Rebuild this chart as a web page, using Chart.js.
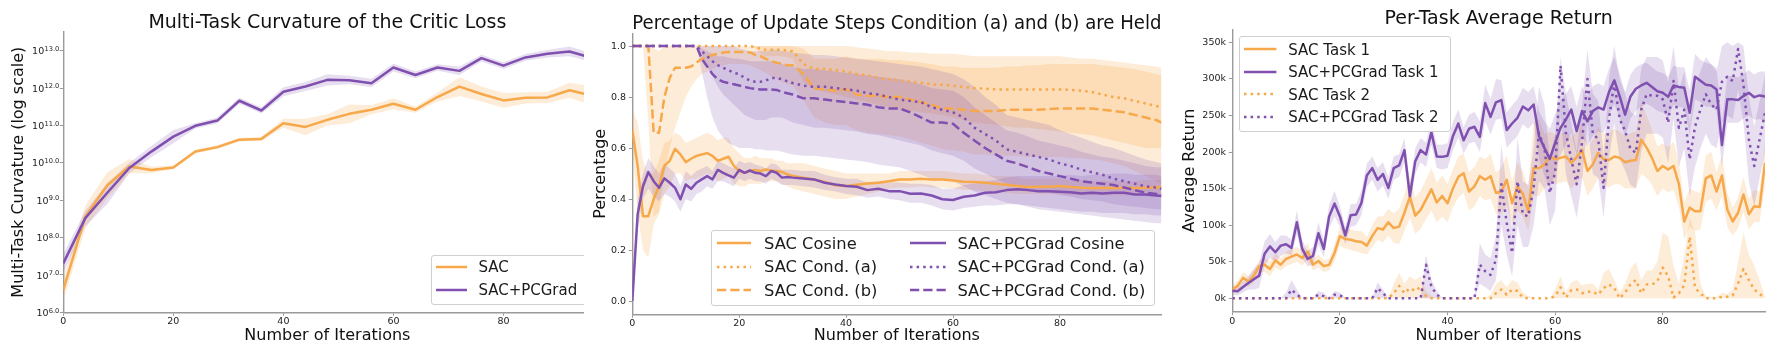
<!DOCTYPE html>
<html><head><meta charset="utf-8">
<script src="https://cdn.jsdelivr.net/npm/chart.js@4.4.1/dist/chart.umd.min.js"></script>
<style>
html,body{margin:0;padding:0;background:#fff;width:1778px;height:354px;overflow:hidden;font-family:'DejaVu Sans',sans-serif}
.panel{position:absolute;top:0;height:354px;overflow:hidden}
.panel canvas{position:absolute;left:0;top:0}
.legend{position:absolute;border:1px solid #cfcfcf;border-radius:3px;background:rgba(255,255,255,0.8);box-sizing:border-box}
.li{position:absolute;white-space:nowrap;color:#1a1a1a;font-family:'DejaVu Sans'}
.ls{position:absolute}
</style></head>
<body>
<div class="panel" id="p1" style="left:0;width:584px"><canvas id="c1" width="600" height="354" style="width:600px;height:354px"></canvas></div>
<div class="panel" id="p2" style="left:585px;width:580px"><canvas id="c2" width="580" height="354" style="width:580px;height:354px"></canvas></div>
<div class="panel" id="p3" style="left:1170px;width:608px"><canvas id="c3" width="608" height="354" style="width:608px;height:354px"></canvas></div>
<script>
// ---------------- Chart 1 : Multi-Task Curvature (values are log10 exponents) ----------------
const c1Iter = [0,4,8,12,16,20,24,28,32,36,40,44,48,52,56,60,64,68,72,76,80,84,88,92,96];
const c1SacLog   = [6.60,8.56,9.40,9.90,9.81,9.875,10.30,10.42,10.62,10.64,11.06,10.96,11.15,11.31,11.42,11.58,11.42,11.76,12.04,11.84,11.67,11.74,11.75,11.94,11.80];
const c1SacLogLo = [6.30,8.25,9.05,9.72,9.72,9.83,10.25,10.37,10.57,10.59,10.94,10.74,11.00,11.06,11.30,11.43,11.34,11.64,11.79,11.64,11.47,11.59,11.60,11.74,11.55];
const c1SacLogHi = [6.90,8.86,9.75,10.10,9.90,9.92,10.35,10.47,10.67,10.69,11.18,11.18,11.30,11.56,11.54,11.73,11.50,11.88,12.29,12.04,11.87,11.89,11.90,12.14,12.05];
const c1PcLog    = [7.31,8.52,9.20,9.86,10.30,10.70,10.99,11.13,11.66,11.40,11.90,12.04,12.22,12.21,12.13,12.55,12.35,12.55,12.46,12.80,12.60,12.82,12.92,12.98,12.81];
const c1PcLogLo  = [7.05,8.30,8.90,9.72,10.15,10.52,10.92,11.05,11.58,11.32,11.78,11.92,12.07,12.10,12.02,12.44,12.26,12.46,12.35,12.71,12.51,12.73,12.82,12.85,12.70];
const c1PcLogHi  = [7.55,8.72,9.45,10.00,10.45,10.88,11.06,11.21,11.74,11.48,12.02,12.16,12.37,12.33,12.25,12.66,12.44,12.64,12.58,12.89,12.69,12.91,13.02,13.11,12.93];
const c1YTickExp = [6,7,8,9,10,11,12,13];
const xTicks = [0,20,40,60,80];

// ---------------- Chart 2 : Percentage of update steps ----------------
const x2 = [0,1,2,3,4,5,6,7,8,9,10,11,12,13,14,15,16,17,18,19,20,21,22,23,24,25,26,27,28,29,30,32,34,36,38,40,42,44,46,48,50,52,54,56,58,60,62,64,66,68,70,72,74,76,78,80,82,84,86,88,90,92,94,96,98,99];
const sacCosine = [0.67,0.53,0.333,0.333,0.40,0.45,0.53,0.55,0.597,0.575,
 0.545,0.558,0.569,0.575,0.58,0.569,0.55,0.558,0.566,0.53,
 0.51,0.503,0.51,0.514,0.51,0.516,0.512,0.51,0.506,0.497,
 0.49,
 0.484,0.477,0.467,0.454,0.451,0.456,0.461,0.464,0.47,0.477,
 0.477,0.48,0.477,0.477,0.473,0.468,0.467,0.464,0.46,0.456,
 0.451,0.447,0.448,0.448,0.451,0.447,0.444,0.443,0.443,0.443,
 0.443,0.443,0.444,0.446,
 0.447];
const sacCosineLo = [0.6,0.35,0.2,0.17,0.3,0.34,0.42,0.45,0.5,0.5,
 0.47,0.48,0.48,0.49,0.5,0.49,0.47,0.48,0.49,0.46,
 0.45,0.45,0.46,0.46,0.46,0.47,0.47,0.47,0.46,0.45,
 0.44,
 0.43,0.42,0.41,0.4,0.4,0.41,0.42,0.43,0.44,0.445,
 0.445,0.45,0.445,0.445,0.44,0.435,0.435,0.43,0.43,0.425,
 0.42,0.42,0.42,0.42,0.42,0.415,0.415,0.415,0.415,0.415,
 0.415,0.415,0.415,0.415,
 0.415];
const sacCosineHi = [0.75,0.7,0.55,0.5,0.5,0.55,0.62,0.63,0.66,0.65,
 0.62,0.63,0.64,0.65,0.66,0.65,0.63,0.64,0.64,0.6,
 0.58,0.56,0.56,0.57,0.56,0.56,0.56,0.55,0.55,0.54,
 0.54,
 0.54,0.53,0.52,0.51,0.5,0.5,0.5,0.5,0.5,0.51,
 0.51,0.51,0.51,0.51,0.505,0.5,0.5,0.495,0.49,0.49,
 0.485,0.48,0.48,0.48,0.48,0.475,0.475,0.47,0.47,0.47,
 0.47,0.47,0.475,0.475,
 0.475];
const pcCosine = [0,0.34,0.45,0.506,0.47,0.444,0.481,0.464,0.444,0.399,
 0.457,0.44,0.464,0.477,0.49,0.477,0.514,0.503,0.493,0.484,
 0.514,0.503,0.512,0.503,0.5,0.49,0.51,0.503,0.484,0.486,
 0.484,
 0.481,0.477,0.464,0.457,0.451,0.448,0.435,0.44,0.431,0.431,
 0.421,0.422,0.414,0.399,0.396,0.409,0.414,0.425,0.427,0.435,
 0.438,0.435,0.431,0.431,0.429,0.427,0.422,0.425,0.422,0.425,
 0.425,0.418,0.418,0.414,
 0.412];
const pcCosineLo = [0,0.28,0.4,0.44,0.41,0.39,0.42,0.41,0.39,0.35,
 0.4,0.39,0.42,0.43,0.45,0.44,0.47,0.47,0.46,0.45,
 0.48,0.47,0.48,0.47,0.47,0.46,0.48,0.47,0.455,0.455,
 0.455,
 0.45,0.445,0.435,0.43,0.42,0.415,0.405,0.41,0.4,0.395,
 0.385,0.385,0.375,0.36,0.355,0.365,0.37,0.375,0.375,0.38,
 0.38,0.375,0.37,0.365,0.36,0.355,0.35,0.35,0.345,0.345,
 0.345,0.34,0.34,0.335,
 0.335];
const pcCosineHi = [0,0.4,0.5,0.56,0.53,0.5,0.54,0.52,0.5,0.45,
 0.51,0.49,0.51,0.52,0.53,0.51,0.55,0.54,0.53,0.52,
 0.55,0.54,0.545,0.535,0.53,0.52,0.54,0.535,0.515,0.515,
 0.515,
 0.51,0.51,0.495,0.485,0.48,0.48,0.465,0.47,0.465,0.465,
 0.46,0.46,0.455,0.44,0.44,0.455,0.46,0.47,0.475,0.485,
 0.49,0.49,0.49,0.49,0.49,0.495,0.49,0.495,0.495,0.5,
 0.5,0.495,0.495,0.495,
 0.49];
const sacCondA = [1,1,1,1,1,1,1,1,1,1,
 1,1,1,1,1,1,1,1,1,1,
 1,1,1,0.995,0.99,0.985,0.985,0.985,0.985,0.982,
 0.98,
 0.93,0.91,0.91,0.905,0.9,0.89,0.885,0.875,0.87,0.865,
 0.86,0.855,0.85,0.848,0.845,0.84,0.835,0.833,0.83,0.83,
 0.83,0.83,0.83,0.83,0.83,0.828,0.825,0.82,0.81,0.8,
 0.795,0.785,0.775,0.765,
 0.76];
const sacCondALo = [1,1,1,1,1,1,1,1,1,1,
 1,1,1,1,1,1,1,1,1,1,
 1,1,1,0.99,0.97,0.96,0.96,0.96,0.96,0.955,
 0.95,
 0.86,0.83,0.82,0.81,0.8,0.79,0.78,0.77,0.76,0.75,
 0.745,0.74,0.735,0.73,0.72,0.71,0.7,0.695,0.69,0.685,
 0.68,0.68,0.675,0.67,0.665,0.66,0.655,0.65,0.64,0.63,
 0.62,0.61,0.6,0.6,
 0.6];
const sacCondAHi = [1,1,1,1,1,1,1,1,1,1,
 1,1,1,1,1,1,1,1,1,1,
 1,1,1,1,1,1,1,1,1,1,
 1,
 1,1,1,1,1,0.995,0.99,0.985,0.98,0.98,
 0.975,0.975,0.97,0.97,0.97,0.965,0.96,0.96,0.96,0.96,
 0.96,0.96,0.96,0.96,0.96,0.955,0.95,0.95,0.945,0.94,
 0.935,0.93,0.925,0.92,
 0.915];
const sacCondB = [1,1,1,1,0.66,0.66,0.8,0.875,0.915,0.915,
 0.915,0.92,0.935,0.95,0.955,0.965,0.97,0.975,0.977,0.977,
 0.977,0.977,0.975,0.965,0.96,0.95,0.94,0.935,0.93,0.925,
 0.925,
 0.89,0.835,0.83,0.825,0.83,0.81,0.805,0.805,0.8,0.8,
 0.79,0.78,0.77,0.755,0.755,0.75,0.745,0.745,0.745,0.75,
 0.75,0.75,0.75,0.753,0.755,0.755,0.755,0.755,0.75,0.745,
 0.74,0.73,0.72,0.71,
 0.7];
const sacCondBLo = [1,1,1,0.7,0.33,0.35,0.5,0.6,0.68,0.74,
 0.8,0.84,0.87,0.89,0.9,0.91,0.92,0.925,0.93,0.93,
 0.93,0.93,0.925,0.915,0.905,0.895,0.88,0.87,0.86,0.85,
 0.845,
 0.79,0.72,0.7,0.69,0.69,0.67,0.66,0.655,0.65,0.645,
 0.635,0.62,0.61,0.595,0.59,0.585,0.575,0.575,0.57,0.57,
 0.57,0.565,0.565,0.565,0.565,0.56,0.56,0.555,0.55,0.54,
 0.53,0.51,0.49,0.47,
 0.46];
const sacCondBHi = [1,1,1,1,0.99,0.98,1,1,1,1,
 1,1,1,1,1,1,1,1,1,1,
 1,1,1,1,1,1,1,1,1,1,
 1,
 0.99,0.95,0.95,0.95,0.96,0.95,0.95,0.95,0.945,0.945,
 0.94,0.935,0.93,0.92,0.92,0.915,0.915,0.915,0.915,0.92,
 0.92,0.925,0.925,0.93,0.93,0.93,0.93,0.93,0.925,0.92,
 0.915,0.91,0.9,0.89,
 0.885];
const pcCondA = [1,1,1,1,1,1,1,1,1,1,
 1,1,1,0.98,0.96,0.94,0.925,0.915,0.905,0.895,
 0.89,0.875,0.865,0.86,0.86,0.865,0.875,0.875,0.87,0.862,
 0.855,
 0.845,0.84,0.84,0.835,0.83,0.825,0.815,0.81,0.8,0.79,
 0.785,0.78,0.76,0.75,0.74,0.72,0.68,0.655,0.63,0.595,
 0.585,0.575,0.565,0.555,0.54,0.53,0.515,0.505,0.495,0.48,
 0.47,0.46,0.45,0.445,
 0.44];
const pcCondALo = [1,1,1,1,1,1,1,1,1,1,
 1,1,1,0.96,0.92,0.88,0.84,0.81,0.79,0.77,
 0.75,0.73,0.72,0.71,0.71,0.71,0.72,0.72,0.72,0.71,
 0.7,
 0.69,0.68,0.68,0.675,0.67,0.665,0.655,0.65,0.64,0.63,
 0.62,0.61,0.59,0.58,0.57,0.55,0.52,0.5,0.48,0.46,
 0.45,0.44,0.43,0.425,0.415,0.41,0.4,0.395,0.39,0.38,
 0.375,0.37,0.365,0.36,
 0.36];
const pcCondAHi = [1,1,1,1,1,1,1,1,1,1,
 1,1,1,1,1,1,1,1,1,1,
 0.99,0.985,0.98,0.98,0.98,0.98,0.985,0.985,0.98,0.98,
 0.975,
 0.97,0.965,0.965,0.96,0.955,0.95,0.945,0.94,0.935,0.93,
 0.925,0.92,0.91,0.9,0.89,0.87,0.84,0.8,0.77,0.73,
 0.72,0.71,0.7,0.69,0.67,0.655,0.64,0.625,0.61,0.6,
 0.585,0.57,0.555,0.545,
 0.54];
const pcCondB = [1,1,1,1,1,1,1,1,1,1,
 1,1,1,0.95,0.92,0.89,0.87,0.86,0.855,0.85,
 0.845,0.84,0.835,0.832,0.83,0.83,0.83,0.828,0.82,0.815,
 0.81,
 0.795,0.795,0.79,0.785,0.78,0.775,0.77,0.76,0.755,0.755,
 0.74,0.72,0.7,0.7,0.695,0.66,0.63,0.6,0.575,0.55,
 0.54,0.525,0.51,0.5,0.49,0.48,0.47,0.465,0.46,0.455,
 0.445,0.435,0.425,0.42,
 0.42];
const pcCondBLo = [1,1,1,1,1,1,1,1,1,1,
 1,1,1,0.9,0.8,0.72,0.67,0.64,0.62,0.61,
 0.6,0.6,0.6,0.595,0.595,0.59,0.59,0.59,0.585,0.58,
 0.575,
 0.57,0.57,0.565,0.56,0.555,0.55,0.545,0.535,0.53,0.525,
 0.51,0.495,0.48,0.475,0.47,0.45,0.43,0.415,0.4,0.385,
 0.38,0.37,0.36,0.355,0.35,0.345,0.34,0.335,0.33,0.325,
 0.32,0.315,0.31,0.305,
 0.305];
const pcCondBHi = [1,1,1,1,1,1,1,1,1,1,
 1,1,1,0.99,0.98,0.97,0.96,0.96,0.955,0.95,
 0.95,0.945,0.94,0.94,0.94,0.94,0.94,0.935,0.93,0.925,
 0.92,
 0.91,0.91,0.905,0.9,0.895,0.89,0.885,0.88,0.875,0.87,
 0.86,0.85,0.835,0.83,0.825,0.8,0.76,0.73,0.7,0.67,
 0.66,0.645,0.63,0.62,0.61,0.6,0.585,0.575,0.565,0.56,
 0.55,0.54,0.53,0.525,
 0.525];
const c2YTicks = [0,0.2,0.4,0.6,0.8,1.0];

// ---------------- Chart 3 : Per-task average return (thousands) ----------------
const x3 = [0,1,2,3,4,5,6,7,8,9,10,11,12,13,14,15,16,17,18,19,20,21,22,23,24,25,26,27,28,29,30,31,32,33,34,35,36,37,38,39,40,41,42,43,44,45,46,47,48,49,50,51,52,53,54,55,56,57,58,59,60,61,62,63,64,65,66,67,68,69,70,71,72,73,74,75,76,77,78,79,80,81,82,83,84,85,86,87,88,89,90,91,92,93,94,95,96,97,98,99];
const sacTask1 = [12,17,28,23,31,44,46,40,52,46,
 54,57,60,55,64,46,51,44,46,62,
 85,81,80,78,77,72,85,96,94,104,
 96,98,117,139,113,121,135,149,131,140,
 130,150,166,171,146,153,167,162,167,144,
 146,162,130,153,143,119,178,178,183,194,
 190,192,194,185,193,203,174,183,199,190,
 189,194,192,186,188,189,217,206,192,174,
 181,176,181,156,105,124,119,119,164,168,
 146,168,121,105,117,142,115,126,125,185];
const sacTask1Lo = [6,10,20,16,22,36,36,30,42,38,
 44,47,50,45,52,38,42,36,38,50,
 72,68,66,64,62,60,70,80,76,86,
 76,74,92,110,88,95,108,120,104,112,
 104,124,138,144,120,126,140,134,136,116,
 115,128,100,120,112,92,140,140,150,160,
 156,158,160,150,158,166,140,150,164,155,
 152,156,156,150,150,150,170,165,155,140,
 150,145,148,125,80,98,92,94,132,136,
 120,140,98,86,96,118,94,104,104,155];
const sacTask1Hi = [18,24,36,30,40,52,56,50,62,54,
 64,67,70,65,76,54,60,52,54,74,
 98,94,94,92,92,84,100,112,112,122,
 116,122,142,168,138,147,162,178,158,168,
 156,176,194,198,172,180,194,190,198,172,
 178,196,160,186,174,150,240,245,225,228,
 224,226,228,220,228,240,208,216,234,225,
 226,232,228,222,226,228,268,250,230,208,
 212,207,214,187,130,150,146,144,196,200,
 172,196,144,124,138,166,136,148,146,215];
const pcTask1 = [10.5,9.6,15.5,21,26,31,61,71,63,72,
 74,69,104,67.5,54,58,89,67.5,112,129.5,
 112,86,113.6,114.5,130.5,168,178,162,170,151,
 178,181.6,202.6,139.6,187.5,202.6,196.6,227,194,193.4,
 195,221.7,239,216,231.8,234.5,220.8,266.9,248,268,
 271,230,239,246.8,262.3,257,265,221.7,205.7,190.7,
 212.6,233,244.5,258,228.6,256,242,256,261,258,
 282,298,276,251,276,286.5,291,294.7,289,283,
 281,275.5,291,289,288,253.6,303,297.4,292,291,
 285.6,209.4,272,272,271,276.5,281,275,277.4,276];
const pcTask1Lo = [5,4,8,12,12,14,45,55,50,58,
 62,58,88,55,44,46,74,56,96,112,
 98,74,98,100,114,152,162,146,154,136,
 162,166,186,124,170,186,180,210,178,176,
 178,202,220,198,212,214,200,242,224,244,
 246,206,214,222,238,232,240,190,168,150,
 172,196,210,226,196,222,208,222,228,226,
 250,266,246,220,246,256,262,266,262,256,
 254,248,264,262,260,224,272,268,262,262,
 256,180,240,240,240,246,250,244,245,242];
const pcTask1Hi = [16,15,23,30,40,48,78,88,77,86,
 86,80,120,80,64,70,104,80,128,147,
 126,98,129,129,147,184,194,178,186,166,
 194,197,219,155,205,219,213,244,210,210,
 212,241,258,234,251,255,242,292,272,300,
 298,254,264,272,288,282,290,256,242,232,
 252,272,280,290,262,290,276,290,294,290,
 314,330,306,282,306,316,320,322,316,310,
 308,303,318,316,316,284,334,326,322,320,
 315,240,304,304,302,307,312,306,310,310];
const sacTask2 = [0,0,0,0,0,0,0,0,0,0,
 0,0,0,0,0,0,0,0,0,0,
 0,0,0,0,0,0,0,0,0,0,
 7,17,7,14,10,16,3,0,0,0,
 0,0,0,0,0,0,0,0,0,7,
 12,5,12,10,1,0,0,0,0,0,
 3,15,1,11,12,7,9,9,5,14,
 19,14,0,8,19,25,7,19,19,23,
 42,30,1,7,18,84,14,7,0,0,
 0,2,2,4,20,40,25,12,6,0];
const sacTask2Hi = [0,0,0,0,0,0,0,0,0,0,
 0,0,0,0,0,0,0,0,0,0,
 0,0,0,0,0,0,0,0,0,0,
 20,35,20,30,25,30,10,3,0,0,
 0,0,0,0,0,0,0,0,5,20,
 25,15,25,22,8,3,0,0,0,0,
 12,30,8,22,25,18,20,20,12,35,
 40,25,8,20,40,50,25,38,38,50,
 90,85,45,20,60,110,90,20,3,2,
 2,8,6,12,50,90,60,45,25,2];
const pcTask2 = [0,0,0,0,0,0,0,0,0,0,
 0,12,5,0,0,0,5,3,0,5,
 4,0,0,0,0,0,0,14,7,0,
 0,0,0,0,0,0,46,16,5,0,
 0,0,0,0,0,0,46,37,32,53,
 156,103,62,160,115,112,151,226,206,144,
 172,318,226,190,156,213,300,226,217,151,
 245,295,245,229,204,199,258,279,277,277,
 272,240,297,233,258,190,235,258,279,265,
 258,296,303,297,341,292,217,181,217,254];
const pcTask2Lo = [0,0,0,0,0,0,0,0,0,0,
 0,0,0,0,0,0,0,0,0,0,
 0,0,0,0,0,0,0,0,0,0,
 0,0,0,0,0,0,0,0,0,0,
 0,0,0,0,0,0,20,15,10,25,
 100,60,30,100,70,70,100,160,150,100,
 120,250,170,140,110,160,240,170,165,110,
 190,240,190,175,155,150,200,225,225,225,
 220,185,245,180,205,140,180,205,225,210,
 205,240,250,245,285,240,160,125,165,200];
const pcTask2Hi = [0,0,0,0,0,0,0,0,0,0,
 8,25,12,0,0,0,10,8,0,10,
 8,0,0,0,0,0,0,22,12,0,
 0,0,0,0,0,0,60,25,10,0,
 0,0,0,0,0,0,75,60,55,85,
 210,150,95,220,160,155,205,290,265,190,
 225,330,280,240,200,265,340,280,270,195,
 300,345,300,280,255,250,315,330,330,330,
 325,295,345,285,310,240,290,310,330,320,
 310,345,350,345,350,345,275,235,270,305];
const c3YTicks = [0,50,100,150,200,250,300,350];

// ---------------- Styling ----------------
const ORANGE = 'rgb(246,168,75)', PURPLE = 'rgb(128,80,176)';
const ORANGE_F = 'rgba(246,168,75,0.22)', PURPLE_F = 'rgba(128,80,176,0.19)';
const DOT = [2.5,4.1], DASH = [9.25,4];
const TXT = '#222';
Chart.defaults.font.family = "'DejaVu Sans'";
Chart.defaults.color = TXT;

function pts(xs, ys){ return xs.map((x,i)=>({x:x, y:ys[i]})); }
function pow10(a){ return a.map(e=>Math.pow(10,e)); }
function line(label, data, color, dash){
  return {label, data, borderColor:color, backgroundColor:color, borderWidth:2.5, borderDash:dash||[],
          borderCapStyle:'butt', borderJoinStyle:'round', pointRadius:0, pointHoverRadius:0, fill:false, tension:0};
}
function bandHi(data, color, target){
  return {label:'', data, borderColor:'rgba(0,0,0,0)', borderWidth:1, backgroundColor:color, pointRadius:0, pointHoverRadius:0, fill:target, tension:0};
}
function bandLo(data){
  return {label:'', data, borderColor:'rgba(0,0,0,0)', borderWidth:1, backgroundColor:'rgba(0,0,0,0)', pointRadius:0, pointHoverRadius:0, fill:false, tension:0};
}
function setTicks(vals){ return function(scale){ scale.ticks = vals.map(v=>({value:v})); }; }
const gridStyle = {drawOnChartArea:false, drawTicks:true, tickLength:3.5, color:'#9a9a9a', lineWidth:1};
const borderStyle = {display:true, color:'#9a9a9a', width:1.4};

function xAxis(max, height){
  return {type:'linear', min:0, max:max, afterBuildTicks:setTicks(xTicks), afterFit:s=>{s.height=height;},
    grid:gridStyle, border:borderStyle,
    ticks:{font:{size:9.5}, color:TXT, padding:0.5, maxRotation:0, autoSkip:false, callback:v=>String(v)},
    title:{display:true, text:'Number of Iterations', font:{size:16, lineHeight:1}, color:'#111', padding:{top:0, bottom:10.5}}};
}
function yAxis(type, min, max, tickVals, width, title, tpad, cb){
  return {type:type, min:min, max:max, afterBuildTicks:setTicks(tickVals), afterFit:s=>{s.width=width;},
    grid:gridStyle, border:borderStyle,
    ticks:{font:{size:9.5}, color:TXT, padding:2.8, autoSkip:false, callback:cb},
    title:{display:true, text:title, font:{size:16, lineHeight:1}, color:'#111', padding:{top:tpad, bottom:0}}};
}
function baseOptions(titleText, tpadTop, tpadBot, padRight, scales){
  return {responsive:false, maintainAspectRatio:false, animation:false, devicePixelRatio:1, events:[],
    layout:{padding:{left:0, top:0, right:padRight, bottom:0}},
    plugins:{legend:{display:false}, tooltip:{enabled:false}, filler:{drawTime:'beforeDatasetsDraw', propagate:false},
      title:{display:true, text:titleText, fullSize:false, color:'#111', font:{size:19, weight:'normal', lineHeight:1}, padding:{top:tpadTop, bottom:tpadBot}}},
    scales:scales};
}

// superscript log tick labels (10^{k.0}) drawn as text
const supLabels = {id:'supLabels', afterDraw(chart){
  const ys = chart.scales.y, ctx = chart.ctx;
  ctx.save(); ctx.fillStyle = TXT; ctx.textBaseline = 'alphabetic';
  const right = ys.right - 4;
  c1YTickExp.forEach(e=>{
    const y = ys.getPixelForValue(Math.pow(10,e));
    const sup = e.toFixed(1);
    ctx.font = "6.7px 'DejaVu Sans'";
    const sw = ctx.measureText(sup).width;
    ctx.textAlign = 'left'; ctx.fillText(sup, right - sw, y + 0.3);
    ctx.font = "9.5px 'DejaVu Sans'";
    ctx.textAlign = 'right'; ctx.fillText('10', right - sw - 0.2, y + 3.6);
  });
  ctx.restore();
}};

// ---- Chart 1
new Chart(document.getElementById('c1'), {type:'line',
  data:{datasets:[
    line('SAC+PCGrad', pts(c1Iter, pow10(c1PcLog)), PURPLE),
    line('SAC', pts(c1Iter, pow10(c1SacLog)), ORANGE),
    bandHi(pts(c1Iter, pow10(c1PcLogHi)), PURPLE_F, '+1'),
    bandLo(pts(c1Iter, pow10(c1PcLogLo))),
    bandHi(pts(c1Iter, pow10(c1SacLogHi)), ORANGE_F, '+1'),
    bandLo(pts(c1Iter, pow10(c1SacLogLo)))
  ]},
  options:baseOptions('Multi-Task Curvature of the Critic Loss', 13.9, -0.9, 8.5, {
    x:xAxis(96, 41.7),
    y:yAxis('logarithmic', 1e6, Math.pow(10,13.5), c1YTickExp.map(e=>Math.pow(10,e)), 63.3, 'Multi-Task Curvature (log scale)', 10.5, ()=>'')
  }),
  plugins:[supLabels]
});

// ---- Chart 2
new Chart(document.getElementById('c2'), {type:'line',
  data:{datasets:[
    line('SAC+PCGrad Cond. (b)', pts(x2, pcCondB), PURPLE, DASH),
    line('SAC+PCGrad Cond. (a)', pts(x2, pcCondA), PURPLE, DOT),
    line('SAC+PCGrad Cosine', pts(x2, pcCosine), PURPLE),
    line('SAC Cond. (b)', pts(x2, sacCondB), ORANGE, DASH),
    line('SAC Cond. (a)', pts(x2, sacCondA), ORANGE, DOT),
    line('SAC Cosine', pts(x2, sacCosine), ORANGE),
    bandHi(pts(x2, pcCondBHi), PURPLE_F, '+1'), bandLo(pts(x2, pcCondBLo)),
    bandHi(pts(x2, pcCondAHi), PURPLE_F, '+1'), bandLo(pts(x2, pcCondALo)),
    bandHi(pts(x2, pcCosineHi), PURPLE_F, '+1'), bandLo(pts(x2, pcCosineLo)),
    bandHi(pts(x2, sacCondBHi), ORANGE_F, '+1'), bandLo(pts(x2, sacCondBLo)),
    bandHi(pts(x2, sacCondAHi), ORANGE_F, '+1'), bandLo(pts(x2, sacCondALo)),
    bandHi(pts(x2, sacCosineHi), ORANGE_F, '+1'), bandLo(pts(x2, sacCosineLo))
  ]},
  options:baseOptions('Percentage of Update Steps Condition (a) and (b) are Held', 14.9, -0.6, 3.5, {
    x:xAxis(99, 39.7),
    y:yAxis('linear', -0.052, 1.05, c2YTicks, 47.3, 'Percentage', 8.2, v=>Number(v).toFixed(1))
  })
});

// ---- Chart 3
new Chart(document.getElementById('c3'), {type:'line',
  data:{datasets:[
    line('SAC+PCGrad Task 2', pts(x3, pcTask2), PURPLE, DOT),
    line('SAC Task 2', pts(x3, sacTask2), ORANGE, DOT),
    line('SAC+PCGrad Task 1', pts(x3, pcTask1), PURPLE),
    line('SAC Task 1', pts(x3, sacTask1), ORANGE),
    bandHi(pts(x3, pcTask2Hi), PURPLE_F, '+1'), bandLo(pts(x3, pcTask2Lo)),
    bandHi(pts(x3, sacTask2Hi), ORANGE_F, 'origin'),
    bandHi(pts(x3, pcTask1Hi), PURPLE_F, '+1'), bandLo(pts(x3, pcTask1Lo)),
    bandHi(pts(x3, sacTask1Hi), ORANGE_F, '+1'), bandLo(pts(x3, sacTask1Lo))
  ]},
  options:baseOptions('Per-Task Average Return', 9.9, 0.4, 13, {
    x:xAxis(99, 42.3),
    y:yAxis('linear', -18.3, 367.8, c3YTicks, 62.3, 'Average Return', 12, v=>v+'k')
  })
});

// ---------------- Legends (HTML text) ----------------
const legend1Labels = ['SAC','SAC+PCGrad'];
const legend2Labels = ['SAC Cosine','SAC Cond. (a)','SAC Cond. (b)','SAC+PCGrad Cosine','SAC+PCGrad Cond. (a)','SAC+PCGrad Cond. (b)'];
const legend3Labels = ['SAC Task 1','SAC+PCGrad Task 1','SAC Task 2','SAC+PCGrad Task 2'];

function makeLegend(parent, originX, frame, items, fs){
  const f = document.createElement('div'); f.className='legend';
  f.style.left=(frame.l-originX)+'px'; f.style.top=frame.t+'px'; f.style.width=frame.w+'px'; f.style.height=frame.h+'px';
  parent.appendChild(f);
  items.forEach(it=>{
    const w = it.x1 - it.x0;
    const svgNS='http://www.w3.org/2000/svg';
    const svg=document.createElementNS(svgNS,'svg');
    svg.setAttribute('width', w); svg.setAttribute('height', 8);
    svg.setAttribute('class','ls');
    svg.style.left=(it.x0-originX)+'px'; svg.style.top=(it.cy-4)+'px';
    const ln=document.createElementNS(svgNS,'line');
    ln.setAttribute('x1',0); ln.setAttribute('x2',w); ln.setAttribute('y1',4); ln.setAttribute('y2',4);
    ln.setAttribute('stroke',it.color); ln.setAttribute('stroke-width',2.5);
    if(it.dash) ln.setAttribute('stroke-dasharray', it.dash.join(' '));
    svg.appendChild(ln); parent.appendChild(svg);
    const t=document.createElement('div'); t.className='li'; t.textContent=it.label;
    t.style.fontSize=fs+'px'; t.style.lineHeight=(fs*1.2)+'px';
    t.style.left=(it.tx-originX)+'px'; t.style.top=(it.cy-0.581*fs)+'px';
    parent.appendChild(t);
  });
}
const p1=document.getElementById('p1');
makeLegend(p1, 0, {l:430.5,t:255,w:160,h:49.5}, [
  {x0:436,x1:467,tx:478.4,cy:266.7,color:ORANGE,label:legend1Labels[0]},
  {x0:436,x1:467,tx:478.4,cy:290,color:PURPLE,label:legend1Labels[1]}
], 15);
makeLegend(document.body, 0, {l:711,t:230,w:443.5,h:76}, [
  {x0:716.5,x1:751,tx:764,cy:243.3,color:ORANGE,label:legend2Labels[0]},
  {x0:716.5,x1:751,tx:764,cy:266.5,color:ORANGE,dash:DOT,label:legend2Labels[1]},
  {x0:716.5,x1:751,tx:764,cy:290.2,color:ORANGE,dash:DASH,label:legend2Labels[2]},
  {x0:909.6,x1:946,tx:957.4,cy:243.3,color:PURPLE,label:legend2Labels[3]},
  {x0:909.6,x1:946,tx:957.4,cy:266.5,color:PURPLE,dash:DOT,label:legend2Labels[4]},
  {x0:909.6,x1:946,tx:957.4,cy:290.2,color:PURPLE,dash:DASH,label:legend2Labels[5]}
], 16.3);
makeLegend(document.body, 0, {l:1239.3,t:36,w:212,h:95.7}, [
  {x0:1244.3,x1:1276.7,tx:1288.3,cy:49.3,color:ORANGE,label:legend3Labels[0]},
  {x0:1244.3,x1:1276.7,tx:1288.3,cy:71.7,color:PURPLE,label:legend3Labels[1]},
  {x0:1244.3,x1:1276.7,tx:1288.3,cy:94.3,color:ORANGE,dash:DOT,label:legend3Labels[2]},
  {x0:1244.3,x1:1276.7,tx:1288.3,cy:116.7,color:PURPLE,dash:DOT,label:legend3Labels[3]}
], 15);
</script>
</body></html>
